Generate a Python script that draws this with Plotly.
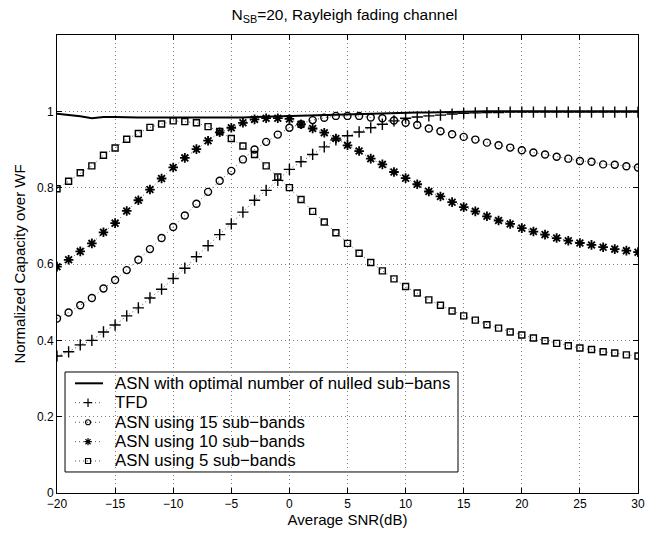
import plotly.graph_objects as go

snr = list(range(-20, 31))

asn_opt = [0.994, 0.991, 0.987, 0.982, 0.985, 0.985, 0.984, 0.984, 0.984, 0.984,
           0.983, 0.983, 0.983, 0.983, 0.983, 0.983, 0.984, 0.985, 0.986, 0.987,
           0.988, 0.989, 0.990, 0.991, 0.991, 0.992, 0.993, 0.994, 0.995, 0.995,
           0.996, 0.997, 0.997, 0.998, 0.998, 0.999, 0.999, 1.000, 1.000, 1.000,
           1.000, 0.999, 0.999, 0.999, 0.999, 1.000, 1.000, 1.000, 1.000, 1.000, 1.000]

tfd = [0.359, 0.370, 0.388, 0.400, 0.422, 0.440, 0.464, 0.485, 0.511, 0.534,
       0.562, 0.589, 0.619, 0.648, 0.677, 0.705, 0.736, 0.767, 0.793, 0.819,
       0.848, 0.868, 0.887, 0.907, 0.925, 0.936, 0.946, 0.957, 0.966, 0.975,
       0.982, 0.985, 0.988, 0.990, 0.993, 0.995, 0.996, 0.997, 0.997, 0.998,
       0.998, 0.998, 0.998, 0.998, 0.998, 0.998, 0.998, 0.998, 0.998, 0.998, 0.998]

asn15 = [0.457, 0.473, 0.492, 0.511, 0.536, 0.558, 0.584, 0.611, 0.639, 0.668,
         0.697, 0.727, 0.758, 0.789, 0.818, 0.844, 0.874, 0.900, 0.920, 0.939,
         0.957, 0.966, 0.977, 0.983, 0.988, 0.988, 0.988, 0.984, 0.982, 0.976,
         0.970, 0.964, 0.955, 0.948, 0.940, 0.933, 0.926, 0.918, 0.911, 0.905,
         0.898, 0.892, 0.887, 0.881, 0.876, 0.870, 0.868, 0.861, 0.860, 0.856, 0.853]

asn10 = [0.593, 0.611, 0.633, 0.654, 0.683, 0.707, 0.739, 0.767, 0.795, 0.824,
         0.853, 0.878, 0.901, 0.923, 0.945, 0.957, 0.970, 0.979, 0.982, 0.982,
         0.980, 0.966, 0.955, 0.944, 0.929, 0.911, 0.896, 0.876, 0.861, 0.841,
         0.825, 0.809, 0.790, 0.777, 0.762, 0.749, 0.738, 0.725, 0.714, 0.705,
         0.694, 0.685, 0.677, 0.668, 0.661, 0.655, 0.650, 0.644, 0.639, 0.635, 0.631]

asn5 = [0.797, 0.817, 0.839, 0.857, 0.885, 0.904, 0.927, 0.942, 0.958, 0.967,
        0.975, 0.973, 0.970, 0.960, 0.947, 0.929, 0.909, 0.887, 0.857, 0.828,
        0.800, 0.769, 0.738, 0.710, 0.682, 0.654, 0.628, 0.604, 0.582, 0.561,
        0.541, 0.524, 0.506, 0.492, 0.477, 0.464, 0.453, 0.441, 0.432, 0.422,
        0.414, 0.406, 0.399, 0.392, 0.386, 0.380, 0.376, 0.370, 0.367, 0.362, 0.359]

series_names = ["ASN with optimal number of nulled sub\u2212bans",
                "TFD",
                "ASN using 15 sub\u2212bands",
                "ASN using 10 sub\u2212bands",
                "ASN using 5 sub\u2212bands"]

x_ticks = [-20, -15, -10, -5, 0, 5, 10, 15, 20, 25, 30]
y_ticks = [0, 0.2, 0.4, 0.6, 0.8, 1]
y_tick_text = ["0", "0.2", "0.4", "0.6", "0.8", "1"]

FONT = "Liberation Sans, Arial, Helvetica, sans-serif"
DOT = "1px,3px"

# marker styles per series (None = plain solid line)
styles = [
    None,
    dict(symbol="cross-thin-open", size=8, lw=1.4, lsize=6),
    dict(symbol="circle-open", size=7, lw=1.4, lsize=5),
    dict(symbol="asterisk-open", size=8, lw=1.8, lsize=6),
    dict(symbol="square-open", size=6, lw=1.4, lsize=5),
]
series_values = [asn_opt, tfd, asn15, asn10, asn5]

fig = go.Figure()

for vals, name, st in zip(series_values, series_names, styles):
    if st is None:
        fig.add_trace(go.Scatter(x=snr, y=vals, mode="lines", name=name,
                                 showlegend=False,
                                 line=dict(color="black", width=2)))
    else:
        fig.add_trace(go.Scatter(x=snr, y=vals, mode="lines+markers", name=name,
                                 showlegend=False,
                                 line=dict(color="#555555", width=1, dash=DOT),
                                 marker=dict(symbol=st["symbol"], size=st["size"],
                                             color="black",
                                             line=dict(color="black", width=st["lw"]))))

# ---- legend (drawn by hand to match the compact MATLAB legend) ----
leg_x0, leg_x1, leg_y0, leg_y1 = 0.0138, 0.6902, 0.0459, 0.2642
row_y = [0.2395, 0.1972, 0.1545, 0.1120, 0.0699]
sample_x0, sample_x1, sample_xm, text_x = 0.031, 0.0792, 0.0534, 0.0964

fig.add_shape(type="rect", xref="paper", yref="paper",
              x0=leg_x0, x1=leg_x1, y0=leg_y0, y1=leg_y1,
              line=dict(color="black", width=1), fillcolor="white", layer="between")

for name, st, ry in zip(series_names, styles, row_y):
    if st is None:
        fig.add_trace(go.Scatter(x=[sample_x0, sample_x1], y=[ry, ry], mode="lines",
                                 xaxis="x2", yaxis="y2", showlegend=False, hoverinfo="skip",
                                 line=dict(color="black", width=2)))
    else:
        fig.add_trace(go.Scatter(x=[sample_x0, sample_x1], y=[ry, ry], mode="lines",
                                 xaxis="x2", yaxis="y2", showlegend=False, hoverinfo="skip",
                                 line=dict(color="#555555", width=1, dash=DOT)))
        fig.add_trace(go.Scatter(x=[sample_xm], y=[ry], mode="markers",
                                 xaxis="x2", yaxis="y2", showlegend=False, hoverinfo="skip",
                                 marker=dict(symbol=st["symbol"], size=st["lsize"], color="black",
                                             line=dict(color="black", width=1.2))))
    fig.add_annotation(x=text_x, y=ry, xref="paper", yref="paper", text=name,
                       showarrow=False, xanchor="left", yanchor="middle",
                       font=dict(size=16.8, family=FONT, color="black"))

# The page adds an 8px body margin; shift the figure margins to compensate.
fig.update_layout(
    width=657, height=534,
    margin=dict(l=49, r=27, t=27, b=49),
    paper_bgcolor="white", plot_bgcolor="white",
    font=dict(family=FONT, size=12, color="black"),
    title=dict(text="N<sub>SB</sub>=20, Rayleigh fading channel",
               x=0.5122, xanchor="center", y=1.0, yanchor="top",
               pad=dict(t=1),
               font=dict(size=15.5, family=FONT)),
    showlegend=False,
    xaxis2=dict(overlaying="x", range=[0, 1], visible=False, fixedrange=True),
    yaxis2=dict(overlaying="y", range=[0, 1], visible=False, fixedrange=True),
)

fig.layout.xaxis.update(range=[-20, 30], tickvals=x_ticks,
                        ticktext=[str(v).replace("-", "\u2212") for v in x_ticks],
                        showline=True, linecolor="black", linewidth=1, mirror="ticks",
                        ticks="inside", ticklen=5, tickcolor="black",
                        showgrid=True, gridcolor="#808080", griddash=DOT, gridwidth=1,
                        zeroline=False,
                        title=dict(text="Average SNR(dB)", standoff=3, font=dict(size=15)),
                        tickfont=dict(size=12))

fig.layout.yaxis.update(range=[0, 1.2], tickvals=y_ticks, ticktext=y_tick_text,
                        showline=True, linecolor="black", linewidth=1, mirror="ticks",
                        ticks="inside", ticklen=5, tickcolor="black",
                        showgrid=True, gridcolor="#808080", griddash=DOT, gridwidth=1,
                        zeroline=False,
                        title=dict(text="Normalized Capacity over WF", standoff=7, font=dict(size=15)),
                        tickfont=dict(size=12))

fig.write_html("out.html")
